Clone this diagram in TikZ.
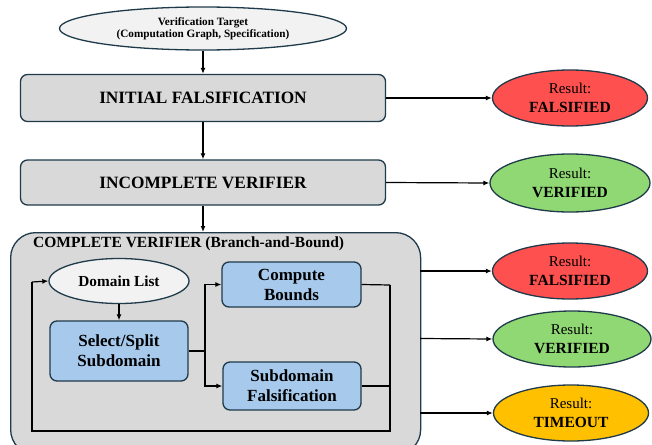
\documentclass[tikz,border=0pt]{standalone}
\usepackage{fontspec}
\setmainfont{Liberation Serif}
\usetikzlibrary{shapes.geometric,arrows.meta}
\definecolor{bord}{HTML}{1F3A4A}
\definecolor{grayfill}{HTML}{D9D9D9}
\definecolor{lightfill}{HTML}{F2F2F2}
\definecolor{bluefill}{HTML}{A6C9EC}
\definecolor{redfill}{HTML}{FF5050}
\definecolor{greenfill}{HTML}{90D873}
\definecolor{orangefill}{HTML}{FFC000}
\tikzset{
  stagebox/.style={draw=bord, line width=1.3pt, fill=grayfill, rounded corners=7pt, minimum width=365pt, minimum height=47pt, inner sep=0pt, font=\fontsize{17.3}{19}\selectfont\bfseries, align=center},
  bluebox/.style={draw=bord, line width=1.3pt, fill=bluefill, rounded corners=7pt, inner sep=0pt, font=\fontsize{17}{20}\selectfont\bfseries, align=center},
  lightell/.style={ellipse, draw=bord, line width=1.3pt, fill=lightfill, inner sep=0pt, align=center},
  result/.style={ellipse, draw=bord, line width=1.3pt, inner sep=0pt, minimum width=155pt, minimum height=56pt, align=center, font=\fontsize{15}{19}\selectfont},
  conn/.style={line width=1.2pt, draw=black},
  arr/.style={conn, -{Latex[length=6pt,width=5pt]}},
}
\begin{document}
\begin{tikzpicture}[x=1pt,y=-1pt]
\useasboundingbox (0,0) rectangle (652,444);
% big container
\begin{scope}
\clip (0,0) rectangle (652,444);
\node[draw=bord, line width=1.3pt, fill=grayfill, rounded corners=25pt, minimum width=410pt, minimum height=222pt, inner sep=0pt, anchor=north west] (cv) at (10,232) {};
\end{scope}
\coordinate (cvtop) at (203,232);
\node[anchor=west, font=\fontsize{15.5}{17}\selectfont\bfseries, inner sep=0pt] (cvtitle) at (33,244) {COMPLETE VERIFIER (Branch-and-Bound)};

\node[lightell, minimum width=287pt, minimum height=43pt, font=\fontsize{11.2}{12.5}\selectfont\bfseries] (vt) at (203,28.5) {Verification Target\\(Computation Graph, Specification)};
\node[stagebox] (ifal) at (203,98) {INITIAL FALSIFICATION};
\node[stagebox, minimum height=45pt] (iver) at (203,182.5) {INCOMPLETE VERIFIER};

\node[result, fill=redfill] (r1) at (570,98) {Result:\\\textbf{\fontsize{15.5}{19}\selectfont FALSIFIED}};
\node[result, fill=greenfill, minimum width=160pt, minimum height=58pt] (r2) at (570,183) {Result:\\\textbf{\fontsize{15.5}{19}\selectfont VERIFIED}};
\node[result, fill=redfill] (r3) at (570,271) {Result:\\\textbf{\fontsize{15.5}{19}\selectfont FALSIFIED}};
\node[result, fill=greenfill, minimum width=158pt] (r4) at (572,339) {Result:\\\textbf{\fontsize{15.5}{19}\selectfont VERIFIED}};
\node[result, fill=orangefill] (r5) at (571,413) {Result:\\\textbf{\fontsize{15.5}{19}\selectfont TIMEOUT}};

\node[lightell, minimum width=140pt, minimum height=45pt, font=\fontsize{15.3}{17}\selectfont\bfseries] (dl) at (119,281) {Domain List};
\node[bluebox, minimum width=138pt, minimum height=60pt] (ss) at (119,351) {Select/Split\\Subdomain};
\node[bluebox, minimum width=139pt, minimum height=45pt] (cb) at (291.5,284.5) {Compute\\Bounds};
\node[bluebox, minimum width=138pt, minimum height=48pt] (sf) at (292,386) {Subdomain\\Falsification};

\coordinate (j) at (205,351);
\coordinate (rt) at (390,285);
\coordinate (rb) at (390,431);
\coordinate (lb) at (32,431);
\coordinate (lt) at (32,282);

% main flow
\draw[arr] (vt.south) -- (ifal.north);
\draw[arr] (ifal.south) -- (iver.north);
\draw[arr] (iver.south) -- (cvtop);
\draw[arr] (ifal.east) -- (r1.west);
\draw[arr] (iver.east) -- (r2.west);
\draw[arr] (420,271) -- (r3.west);
\draw[arr] (420,338.5) -- (r4.west);
\draw[arr] (420,413) -- (r5.west);

% inner loop
\draw[arr] (dl.south) -- (ss.north);
\draw[conn] (ss.east) -- (j);
\draw[arr] (j) |- (cb.west);
\draw[arr] (j) |- (sf.west);
\draw[conn] (cb.east) -- (rt);
\draw[conn] (sf.east) -- (sf.east -| rt);
\draw[conn] (rt) -- (rb) -- (lb) -- (lt);
\draw[arr] (lt) -- (dl.west);
\end{tikzpicture}
\end{document}
